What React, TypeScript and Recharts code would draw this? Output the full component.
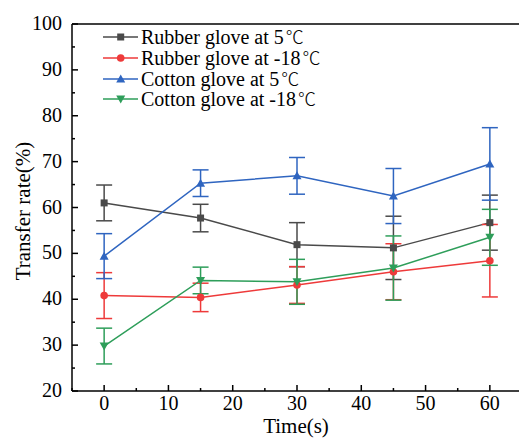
import React from "react";
import {
  LineChart,
  Line,
  XAxis,
  YAxis,
  ErrorBar,
  ReferenceLine,
  Legend,
  Label,
} from "recharts";

const times = [0, 15, 30, 45, 60];

const rubber5 = [61.0, 57.7, 51.9, 51.2, 56.7];
const rubber5Err = [3.9, 3.0, 4.8, 6.9, 6.0];
const rubber18 = [40.8, 40.4, 43.1, 46.0, 48.4];
const rubber18Err = [5.0, 3.1, 4.0, 6.1, 7.9];
const cotton5 = [49.4, 65.3, 66.9, 62.5, 69.5];
const cotton5Err = [4.9, 2.9, 4.0, 6.0, 7.9];
const cotton18 = [29.8, 44.1, 43.8, 46.8, 53.5];
const cotton18Err = [3.9, 2.9, 4.9, 7.0, 6.1];

const xTicks = [-5, 0, 5, 10, 15, 20, 25, 30, 35, 40, 45, 50, 55, 60, 65];
const yTicks = [20, 25, 30, 35, 40, 45, 50, 55, 60, 65, 70, 75, 80, 85, 90, 95, 100];

const FONT = "Liberation Serif, Times New Roman, serif";

const series = [
  { key: "r5", label: "Rubber glove at 5", color: "#4a4a4a", shape: "square" },
  { key: "r18", label: "Rubber glove at -18", color: "#ee3a3a", shape: "circle" },
  { key: "c5", label: "Cotton glove at 5", color: "#2f65c0", shape: "up" },
  { key: "c18", label: "Cotton glove at -18", color: "#2e9e5a", shape: "down" },
];

const data = times.map((t, i) => ({
  t,
  r5: rubber5[i],
  r5e: rubber5Err[i],
  r18: rubber18[i],
  r18e: rubber18Err[i],
  c5: cotton5[i],
  c5e: cotton5Err[i],
  c18: cotton18[i],
  c18e: cotton18Err[i],
}));

const Marker = ({ cx, cy, shape, color }: any) => {
  if (cx == null || cy == null) return null;
  if (shape === "square")
    return <rect x={cx - 3.5} y={cy - 3.5} width={7} height={7} fill={color} />;
  if (shape === "circle") return <circle cx={cx} cy={cy} r={3.8} fill={color} />;
  if (shape === "up")
    return (
      <polygon
        points={`${cx},${cy - 4.5} ${cx - 4.5},${cy + 3.5} ${cx + 4.5},${cy + 3.5}`}
        fill={color}
      />
    );
  return (
    <polygon
      points={`${cx},${cy + 4.5} ${cx - 4.5},${cy - 3.5} ${cx + 4.5},${cy - 3.5}`}
      fill={color}
    />
  );
};

const XTick = ({ x, y, payload }: any) => {
  const v = payload.value;
  const major = v % 10 === 0;
  return (
    <g>
      <line x1={x} x2={x} y1={y} y2={y - (major ? 6 : 3)} stroke="#000" strokeWidth={1.5} />
      {major && v >= 0 && v <= 60 && (
        <text x={x} y={y + 19} textAnchor="middle" style={{ fontFamily: FONT, fontSize: 20 }} fill="#000">
          {v}
        </text>
      )}
    </g>
  );
};

const YTick = ({ x, y, payload }: any) => {
  const v = payload.value;
  const major = v % 10 === 0;
  return (
    <g>
      <line x1={x} x2={x + (major ? 6 : 3)} y1={y} y2={y} stroke="#000" strokeWidth={1.5} />
      {major && (
        <text x={x - 10} y={y + 6} textAnchor="end" style={{ fontFamily: FONT, fontSize: 20 }} fill="#000">
          {v}
        </text>
      )}
    </g>
  );
};

const LegendContent = () => (
  <div style={{ fontFamily: FONT, fontSize: 20, color: "#000" }}>
    {series.map((s) => (
      <div key={s.key} style={{ display: "flex", alignItems: "center", height: 20.7 }}>
        <svg width={38} height={14} style={{ display: "block", flex: "none" }}>
          <line x1={0} x2={35} y1={7} y2={7} stroke={s.color} strokeWidth={1.5} />
          <Marker cx={17.7} cy={7} shape={s.shape} color={s.color} />
        </svg>
        <span style={{ whiteSpace: "nowrap", lineHeight: "18px", height: 18, display: "inline-block" }}>
          {s.label}
          <span
            style={{
              fontFamily: "Noto Sans CJK SC",
              fontSize: 18,
              fontWeight: 300,
              lineHeight: "16px",
              marginLeft: 2,
              display: "inline-block",
              height: 16,
              verticalAlign: "baseline",
            }}
          >
            ℃
          </span>
        </span>
      </div>
    ))}
  </div>
);

export default function App() {
  return (
    <div
      style={{
        position: "fixed",
        left: 0,
        top: 0,
        width: 519,
        height: 438,
        overflow: "hidden",
        background: "#fff",
      }}
    >
      <LineChart
        width={545}
        height={438}
        data={data}
        margin={{ top: 24, right: 23, bottom: 0, left: 0 }}
      >
        <XAxis
          dataKey="t"
          type="number"
          domain={[-5, 65]}
          ticks={xTicks}
          interval={0}
          height={47}
          tickSize={0}
          tickMargin={0}
          tickLine={false}
          axisLine={{ stroke: "#000", strokeWidth: 1.5 }}
          tick={<XTick />}
        >
          <Label
            content={() => (
              <text x={296} y={433} textAnchor="middle" style={{ fontFamily: FONT, fontSize: 21 }} fill="#000">
                Time(s)
              </text>
            )}
          />
        </XAxis>
        <YAxis
          type="number"
          domain={[20, 100]}
          ticks={yTicks}
          interval={0}
          width={72}
          tickSize={0}
          tickMargin={0}
          tickLine={false}
          axisLine={{ stroke: "#000", strokeWidth: 1.5 }}
          tick={<YTick />}
        >
          <Label
            content={() => (
              <text
                x={30}
                y={211}
                transform="rotate(-90 30 211)"
                textAnchor="middle"
                style={{ fontFamily: FONT, fontSize: 21 }}
                fill="#000"
              >
                Transfer rate(%)
              </text>
            )}
          />
        </YAxis>
        <ReferenceLine y={100} stroke="#000" strokeWidth={1.5} />
        <ReferenceLine x={65} stroke="#000" strokeWidth={1.5} />
        {series.map((s) => (
          <Line
            key={s.key}
            dataKey={s.key}
            name={s.label + "℃"}
            type="linear"
            stroke={s.color}
            strokeWidth={1.5}
            isAnimationActive={false}
            dot={(p: any) => <Marker key={`${s.key}-${p.index}`} cx={p.cx} cy={p.cy} shape={s.shape} color={s.color} />}
            activeDot={false}
          >
            <ErrorBar
              dataKey={`${s.key}e`}
              width={8}
              stroke={s.color}
              strokeWidth={1.5}
              isAnimationActive={false}
            />
          </Line>
        ))}
        <Legend
          layout="vertical"
          align="center"
          verticalAlign="middle"
          wrapperStyle={{ top: 27, left: 103, width: "auto" }}
          content={<LegendContent />}
        />
      </LineChart>
    </div>
  );
}
